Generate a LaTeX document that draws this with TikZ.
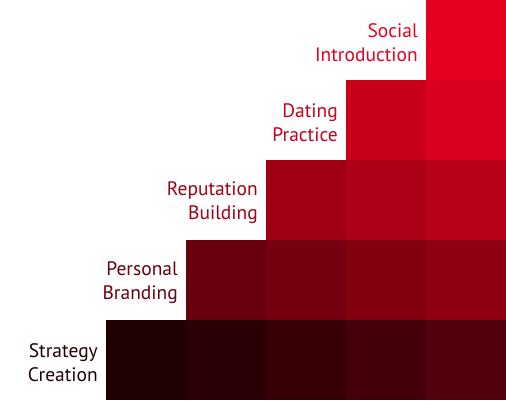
\documentclass[tikz,border=0pt]{standalone}
\usepackage{fontspec}
\setmainfont{PT Sans}
\usetikzlibrary{positioning}

% one colour per cell: c<row><column>, row 1 at the bottom
\definecolor{c11}{HTML}{1F0003}
\definecolor{c12}{HTML}{2A0005}
\definecolor{c13}{HTML}{370007}
\definecolor{c14}{HTML}{44000A}
\definecolor{c15}{HTML}{52000C}
\definecolor{c22}{HTML}{66000F}
\definecolor{c23}{HTML}{760010}
\definecolor{c24}{HTML}{830011}
\definecolor{c25}{HTML}{900013}
\definecolor{c33}{HTML}{A00014}
\definecolor{c34}{HTML}{AC0016}
\definecolor{c35}{HTML}{B80018}
\definecolor{c44}{HTML}{C8001A}
\definecolor{c45}{HTML}{D8001C}
\definecolor{c55}{HTML}{E6001E}

\begin{document}
\begin{tikzpicture}[x=1pt,y=1pt]
    \tikzstyle{cell}=[draw=none,minimum size=80pt,inner sep=0pt,outer sep=0pt]
    \tikzstyle{steplabel}=[align=right,inner sep=0pt,yshift=-3pt,font=\fontsize{19.5}{24}\selectfont]
    \useasboundingbox (0,0) rectangle (506,400);

    \foreach \r in {1,...,5}
        \foreach \c in {\r,...,5}
            \node[cell,fill=c\r\c] (c\r\c) at ({66+80*\c},{80*\r-40}) {};

    \node[steplabel,text=c11] (strategy) [left=8pt of c11] {Strategy\\Creation};
    \node[steplabel,text=c22] (personal) [left=8pt of c22] {Personal\\Branding};
    \node[steplabel,text=c33] (reputation) [left=8pt of c33] {Reputation\\Building};
    \node[steplabel,text=c44] (dating) [left=8pt of c44] {Dating\\Practice};
    \node[steplabel,text=c55] (social) [left=8pt of c55] {Social\\Introduction};
\end{tikzpicture}
\end{document}
